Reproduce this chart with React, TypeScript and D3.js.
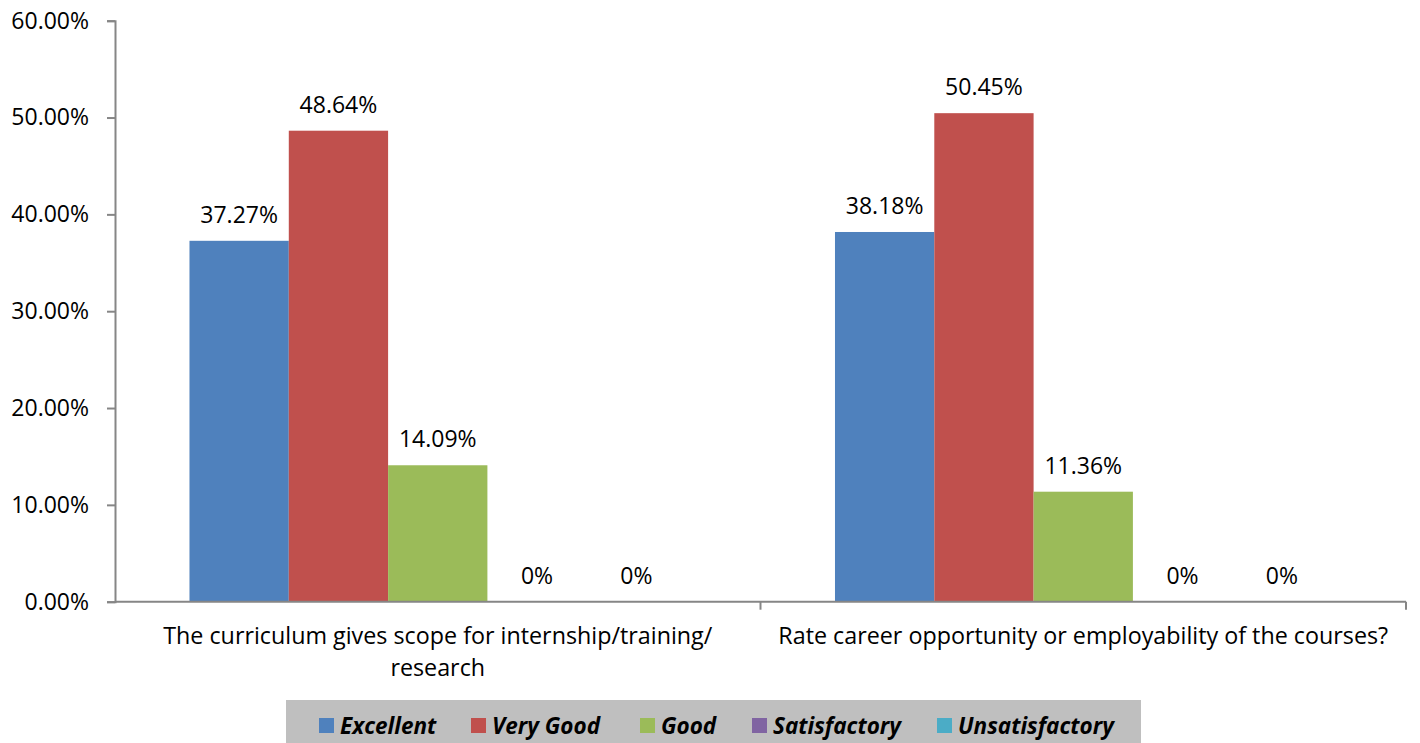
import React, { useRef, useEffect } from 'react';
import * as d3 from 'd3';

const categories = [
	"The curriculum gives scope for internship/training/ research",
	"Rate career opportunity or employability of the courses?",
];
const categoryLines = [
	["The curriculum gives scope for internship/training/", "research"],
	["Rate career opportunity or employability of the courses?"],
];
const seriesNames = ["Excellent", "Very Good", "Good", "Satisfactory", "Unsatisfactory"];
const seriesColors = ["#4F81BD", "#C0504D", "#9BBB59", "#8064A2", "#4BACC6"];
// values per category, in series order (fraction)
const curriculumValues = [0.3727, 0.4864, 0.1409, 0, 0];
const careerValues = [0.3818, 0.5045, 0.1136, 0, 0];
const yTicks = [0, 0.1, 0.2, 0.3, 0.4, 0.5, 0.6];

const W = 1420;
const H = 743;
const FONT = "'Open Sans', 'Liberation Sans', sans-serif";

const App: React.FC = () => {
	const svgRef = useRef<SVGSVGElement | null>(null);

	useEffect(() => {
		if (!svgRef.current) return;
		const svg = d3.select(svgRef.current);
		svg.selectAll("*").remove();

		const values = [curriculumValues, careerValues];
		const left = 115, right = 1406, top = 20.7, bottom = 601.7;

		const x0 = d3.scaleBand<string>().domain(categories).range([left, right]).padding(0);
		const x1 = d3.scaleBand<string>().domain(seriesNames).range([0, x0.bandwidth()])
			.paddingInner(0).paddingOuter(0.75);
		const y = d3.scaleLinear().domain([0, 0.6]).range([bottom, top]);
		const color = d3.scaleOrdinal<string, string>().domain(seriesNames).range(seriesColors);

		// bars
		const groups = svg.append("g")
			.selectAll("g")
			.data(categories)
			.join("g")
			.attr("transform", d => `translate(${x0(d)},0)`);

		groups.selectAll("rect")
			.data((d, i) => seriesNames.map((s, j) => ({ s, v: values[i][j] })))
			.join("rect")
			.attr("x", d => x1(d.s)!)
			.attr("y", d => y(d.v))
			.attr("width", x1.bandwidth())
			.attr("height", d => y(0) - y(d.v))
			.attr("fill", d => color(d.s));

		groups.selectAll("text")
			.data((d, i) => seriesNames.map((s, j) => ({ s, v: values[i][j] })))
			.join("text")
			.attr("x", d => x1(d.s)! + x1.bandwidth() / 2)
			.attr("y", d => y(d.v) - 18)
			.attr("text-anchor", "middle")
			.style("font", `23px ${FONT}`)
			.attr("fill", "#000")
			.text(d => d.v === 0 ? "0%" : d3.format(".2%")(d.v));

		// y axis
		const yAxis = svg.append("g")
			.attr("transform", `translate(${left},0)`)
			.call(d3.axisLeft(y).tickValues(yTicks).tickFormat(d3.format(".2%")).tickSize(8).tickPadding(18));
		yAxis.select(".domain").attr("stroke", "#868686").attr("stroke-width", 2);
		yAxis.selectAll(".tick line").attr("stroke", "#868686").attr("stroke-width", 2);
		yAxis.selectAll("text").style("font", `23px ${FONT}`).attr("fill", "#000");

		// x axis
		const xAxis = svg.append("g");
		xAxis.append("line")
			.attr("x1", left).attr("x2", right)
			.attr("y1", bottom).attr("y2", bottom)
			.attr("stroke", "#868686").attr("stroke-width", 2);
		const boundaries = [...categories.map(c => x0(c)!), right].slice(1);
		xAxis.selectAll("line.tk")
			.data(boundaries)
			.join("line")
			.attr("class", "tk")
			.attr("x1", d => d).attr("x2", d => d)
			.attr("y1", bottom).attr("y2", bottom + 8)
			.attr("stroke", "#868686").attr("stroke-width", 2);

		categories.forEach((c, i) => {
			const cx = x0(c)! + x0.bandwidth() / 2;
			const t = xAxis.append("text")
				.attr("text-anchor", "middle")
				.style("font", `23.3px ${FONT}`)
				.attr("fill", "#000");
			categoryLines[i].forEach((line, k) => {
				t.append("tspan").attr("x", cx).attr("y", 644 + k * 32).text(line);
			});
		});

		// legend
		const legend = svg.append("g");
		legend.append("rect")
			.attr("x", 286).attr("y", 700).attr("width", 855).attr("height", 50)
			.attr("fill", "#BFBFBF");
		const legendX = [319, 471, 640, 752, 937];
		seriesNames.forEach((s, i) => {
			legend.append("rect")
				.attr("x", legendX[i]).attr("y", 718).attr("width", 15).attr("height", 15)
				.attr("fill", color(s));
			legend.append("text")
				.attr("x", legendX[i] + 21).attr("y", 734)
				.style("font", `italic bold 22.5px ${FONT}`)
				.attr("fill", "#000")
				.text(s);
		});
	}, []);

	return (
		<svg ref={svgRef} width={W} height={H}
			style={{ position: "absolute", left: 0, top: 0, background: "#fff" }} />
	);
};

export default App;
